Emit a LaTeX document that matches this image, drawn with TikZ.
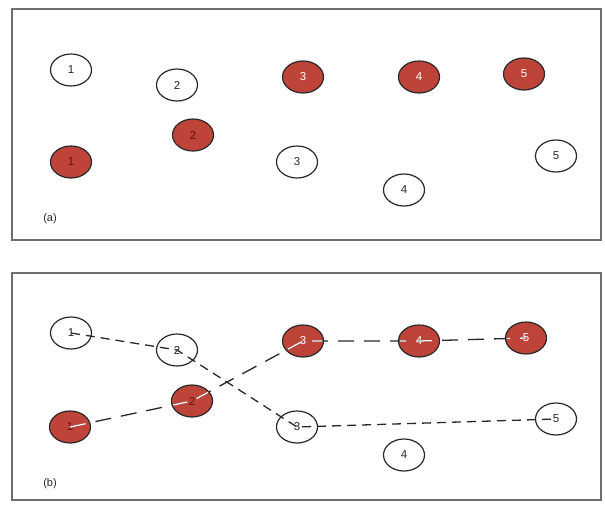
\documentclass[tikz,border=0pt]{standalone}
\usepackage{fontspec}
\setmainfont{Liberation Sans}
\usetikzlibrary{shapes.geometric}
\definecolor{brick}{RGB}{190,68,58}
\definecolor{darkbrick}{RGB}{90,20,15}
\definecolor{framegray}{RGB}{110,110,110}
\definecolor{inkgray}{RGB}{40,40,40}
\tikzset{
  blob/.style={ellipse, draw=inkgray, line width=1.2pt, minimum width=41pt, minimum height=32pt, inner sep=0pt, font=\fontsize{11.5}{11.5}\selectfont},
  plain/.style={blob, fill=white, text=inkgray},
  red/.style={blob, fill=brick, text=white},
  reddark/.style={blob, fill=brick, text=darkbrick},
  panel/.style={draw=framegray, line width=1.5pt},
  tag/.style={font=\fontsize{11}{11}\selectfont, text=inkgray},
  wlink/.style={dash pattern=on 9pt off 6pt, line width=1.3pt},
  rlink/.style={dash pattern=on 16pt off 10pt, line width=1.3pt},
}
\begin{document}
\begin{tikzpicture}[x=1pt,y=-1pt]
\useasboundingbox (0,0) rectangle (605,504);
\fill[white] (0,0) rectangle (605,504);

% panel (a)
\draw[panel] (12,9) rectangle (601,240);
\node[tag] (la) at (50,219) {(a)};
\node[plain]   (a1) at (71,70)  {1};
\node[plain]   (a2) at (177,85) {2};
\node[red]     (a3) at (303,77) {3};
\node[red]     (a4) at (419,77) {4};
\node[red]     (a5) at (524,74) {5};
\node[reddark] (b1) at (71,162) {1};
\node[reddark] (b2) at (193,135) {2};
\node[plain]   (a6) at (297,162) {3};
\node[plain]   (a7) at (404,190) {4};
\node[plain]   (a8) at (556,156) {5};

% panel (b)
\draw[panel] (12,273) rectangle (601,500);
\node[tag] (lb) at (50,484) {(b)};
\node[plain]   (c1) at (71,333)  {1};
\node[plain]   (c2) at (177,350) {2};
\node[red]     (d3) at (303,341) {3};
\node[red]     (d4) at (419,341) {4};
\node[red]     (d5) at (526,338) {5};
\node[reddark] (d1) at (70,427) {1};
\node[reddark] (d2) at (192,401) {2};
\node[plain]   (c3) at (297,427) {3};
\node[plain]   (c4) at (404,455) {4};
\node[plain]   (c5) at (556,419) {5};

% links between the open nodes
\draw[wlink, inkgray] (c1.center) -- (c2.center) -- (c3.center) -- (c5.center);
% links between the filled nodes
\draw[rlink, inkgray] (d1.center) -- (d2.center) -- (d3.center) -- (d4.center) -- (d5.center);
% inside the filled nodes the links show light
\foreach \n in {d1,d2,d3,d4,d5}{
  \begin{scope}
    \clip (\n.center) ellipse (19.5pt and 15pt);
    \draw[rlink, white] (d1.center) -- (d2.center) -- (d3.center) -- (d4.center) -- (d5.center);
  \end{scope}
}
\end{tikzpicture}
\end{document}
